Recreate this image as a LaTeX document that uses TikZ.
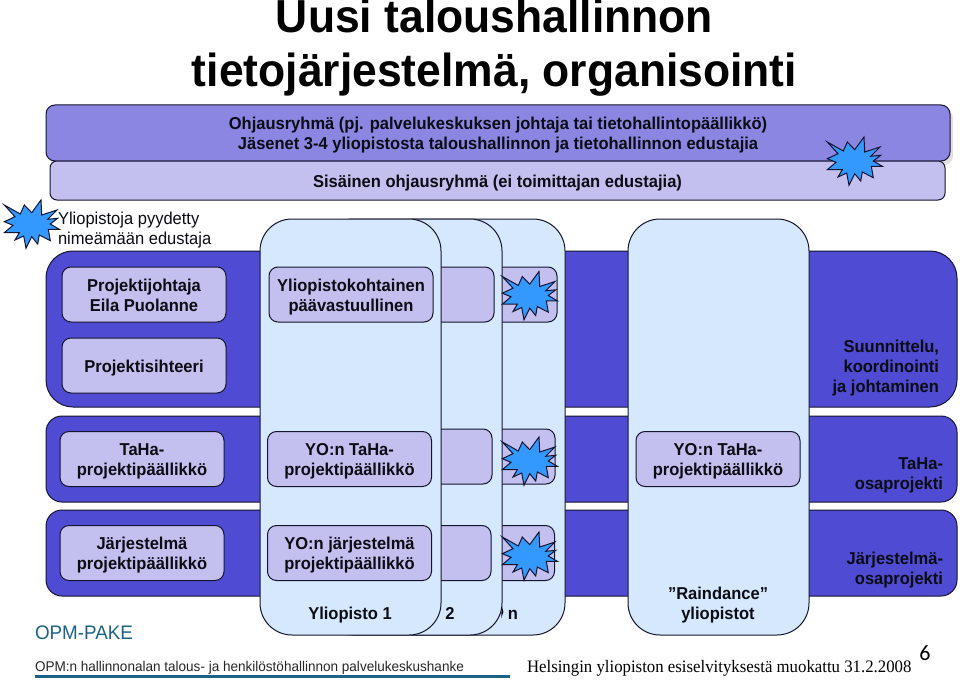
\documentclass[tikz,border=0pt]{standalone}
\usepackage{fontspec}
\setmainfont[FakeStretch=0.96]{Liberation Sans}
\newfontfamily\serifface[FakeStretch=0.96]{Liberation Serif}
\newfontfamily\pagenumface{Carlito}
\definecolor{bandmid}{HTML}{8A86E2}
\definecolor{bandlight}{HTML}{C3BFEE}
\definecolor{banddark}{HTML}{4F4BD2}
\definecolor{colfill}{HTML}{D5E8FD}
\definecolor{burstfill}{HTML}{3399FF}
\definecolor{inkline}{HTML}{151530}
\definecolor{inktext}{HTML}{0C0C14}
\definecolor{teal}{HTML}{1B6286}
\tikzset{
  every node/.style={inner sep=0pt,outer sep=0pt,text=inktext},
  shapebox/.style={draw=inkline,line width=1pt,rectangle},
  band/.style={shapebox,fill=banddark,rounded corners=16pt},
  column/.style={shapebox,fill=colfill,rounded corners=32pt,minimum width=181pt,minimum height=416pt},
  struts/.style={execute at begin node={\rule{0pt}{18pt}},execute at end node={\rule[-5pt]{0pt}{5pt}}},
  mstruts/.style={execute at begin node={\rule{0pt}{38pt}},execute at end node={\rule[-5pt]{0pt}{5pt}}},
  tstruts/.style={execute at begin node={\rule{0pt}{58pt}},execute at end node={\rule[-5pt]{0pt}{5pt}}},
  ibox/.style={shapebox,fill=bandlight,rounded corners=9pt,minimum width=164pt,minimum height=55pt,align=center,
    font=\fontsize{17.2}{20}\selectfont\bfseries},
  lab/.style={align=center,font=\fontsize{17.2}{20}\selectfont\bfseries},
  burst/.pic={\draw[draw=inkline,line width=1pt,fill=burstfill,line join=miter,miter limit=10]
    (-26.7,-19)--(-10.7,-10)--(-6.7,-19)--(0.7,-11.3)--(10,-24)--(10.7,-9)--(26,-14)--(16.7,-4.7)--(26.7,-5.7)--(19.3,0)
    --(28.3,5.3)--(17.3,5.3)--(19.3,16.7)--(8.3,11)--(6.7,20)--(0.7,12.7)--(-5,24.3)--(-7.3,12)--(-16,16)--(-11.7,8.7)
    --(-26.7,8.7)--(-18,1.3)--(-26.7,-2.3)--(-16,-7.3)--cycle;}
}
\begin{document}
\begin{tikzpicture}[x=1pt,y=-1pt]
\useasboundingbox[fill=white] (0,0) rectangle (960,690);
\clip (0,0) rectangle (960,690);
% title
\node[font=\fontsize{46.3}{54}\selectfont\bfseries,text=black,align=center,anchor=base] (title1) at (494.5,32.5) {Uusi taloushallinnon};
\node[font=\fontsize{46.3}{54}\selectfont\bfseries,text=black,align=center,anchor=base] (title2) at (494.5,86.5) {tietojärjestelmä, organisointi};
% steering bands
\fill[black!12,rounded corners=9pt] (50,109) rectangle (953,165);
\node[shapebox,fill=bandmid,rounded corners=9pt,minimum width=904pt,minimum height=56pt,lab,mstruts] (steer) at (498,133)
  {Ohjausryhmä (pj. palvelukeskuksen johtaja tai tietohallintopäällikkö)\\Jäsenet 3-4 yliopistosta taloushallinnon ja tietohallinnon edustajia};
\node[shapebox,fill=bandlight,rounded corners=7pt,minimum width=895pt,minimum height=39pt,lab,struts] (inner) at (497.5,180.5)
  {Sisäinen ohjausryhmä (ei toimittajan edustajia)};
% rows
\node[band,rounded corners=27pt,minimum width=911pt,minimum height=156pt] (rowa) at (501.5,329) {};
\node[band,minimum width=911pt,minimum height=86pt] (rowb) at (501.5,459) {};
\node[band,minimum width=911pt,minimum height=86pt] (rowc) at (501.5,553) {};
% left boxes
\node[ibox,mstruts] (pj) at (144,294.5) {Projektijohtaja\\Eila Puolanne};
\node[ibox,struts] (ps) at (144,365.5) {Projektisihteeri};
\node[ibox,mstruts] (tp) at (142,459) {TaHa-\\projektipäällikkö};
\node[ibox,mstruts] (jp) at (142,553) {Järjestelmä\\projektipäällikkö};
% column n
\node[column] (coln) at (474.5,427) {};
\node[ibox] (bn1) at (475,294.5) {};
\node[ibox] (bn2) at (473,456.5) {};
\node[ibox] (bn3) at (472.5,553) {};
\node[lab,struts] (ln) at (513,612.5) {n};
% column 2
\node[column] (col2) at (411.5,427) {};
\fill[black] (501.8,606) -- (503.4,612) -- (501.2,618) -- cycle;
\node[ibox] (b21) at (412,294.5) {};
\node[ibox] (b22) at (410,456.5) {};
\node[ibox] (b23) at (409,553) {};
\node[lab,struts] (l2) at (450,612.5) {2};
% column 1
\node[column] (col1) at (350.5,427) {};
\node[ibox,mstruts] (b11) at (351,294.5) {Yliopistokohtainen\\päävastuullinen};
\node[ibox,mstruts] (b12) at (349.5,459) {YO:n TaHa-\\projektipäällikkö};
\node[ibox,mstruts] (b13) at (349.5,553) {YO:n järjestelmä\\projektipäällikkö};
\node[lab,struts] (l1) at (350,612.5) {Yliopisto 1};
% Raindance column
\node[column] (colr) at (718.5,427) {};
\node[ibox,mstruts] (br) at (718,459) {YO:n TaHa-\\projektipäällikkö};
\node[lab,mstruts] (lr) at (718,602.5) {”Raindance”\\yliopistot};
% right labels
\node[lab,tstruts,align=right,anchor=east] (ra) at (939,366) {Suunnittelu,\hspace{5pt}\\koordinointi\\ja johtaminen};
\node[lab,mstruts,align=right,anchor=east] (rb) at (943,473) {TaHa-\\osaprojekti};
\node[lab,mstruts,align=right,anchor=east] (rc) at (943,568) {Järjestelmä-\\osaprojekti};
% note
\node[font=\fontsize{17.2}{20}\selectfont,align=left,anchor=west,mstruts] (note) at (58,228) {Yliopistoja pyydetty\\nimeämään edustaja};
% bursts
\pic at (854,161) {burst};
\pic at (31,224) {burst};
\pic at (529,295.5) {burst};
\pic at (529,461) {burst};
\pic at (529,556) {burst};
% footer
\node[font=\fontsize{19.6}{24}\selectfont,text=teal,anchor=base west] (opm) at (35,639) {OPM-PAKE};
\node[font=\fontsize{14.1}{18}\selectfont,text=black!85,anchor=base west] (sub) at (35,671.5) {OPM:n hallinnonalan talous- ja henkilöstöhallinnon palvelukeskushanke};
\coordinate (rulea) at (35,676);
\coordinate (ruleb) at (510,676);
\draw[teal,line width=3pt] (rulea) -- (ruleb);
\node[font=\fontsize{17.5}{20}\selectfont\serifface,text=black,anchor=base west] (src) at (527,672) {Helsingin yliopiston esiselvityksestä muokattu 31.2.2008};
\node[font=\fontsize{22}{24}\selectfont\pagenumface,text=black] (pg) at (925,653) {6};
\end{tikzpicture}
\end{document}
